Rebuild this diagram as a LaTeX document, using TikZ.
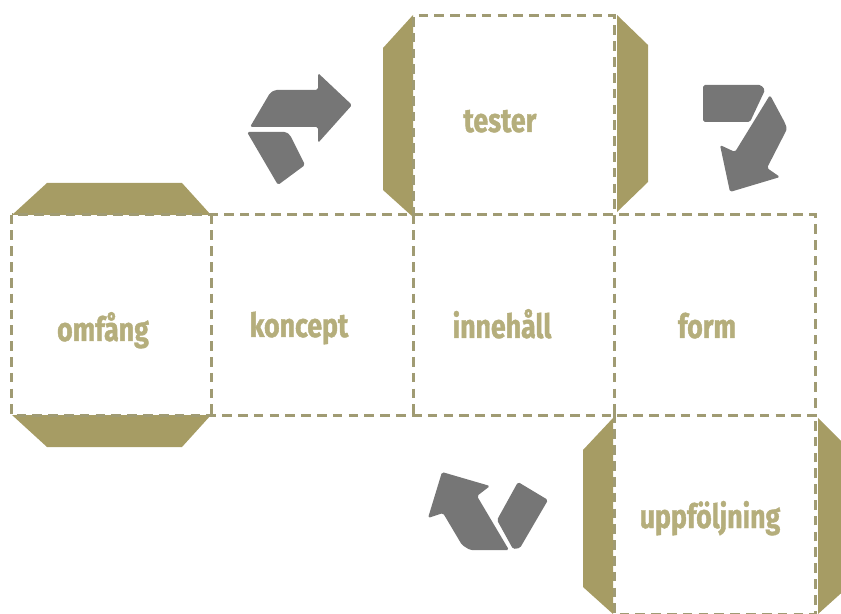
\documentclass[tikz,border=0pt]{standalone}
\usepackage{fontspec}
\setmainfont{Fira Sans}[FakeStretch=0.8,BoldFeatures={FakeBold=1.2}]
\definecolor{flapcol}{HTML}{A69C64}
\definecolor{wordcol}{HTML}{B5AE7C}
\definecolor{foldcol}{HTML}{A09B73}
\definecolor{turncol}{HTML}{767676}

\begin{document}
\begin{tikzpicture}[x=0.02cm,y=-0.02cm,
	face/.style={minimum width=4cm,minimum height=4cm,inner sep=0pt},
	word/.style={anchor=base,text=wordcol,font=\bfseries\fontsize{19}{21}\selectfont},
	flap/.style={fill=flapcol},
	fold/.style={draw=foldcol,line width=1.4pt,dash pattern=on 5.5pt off 3.5pt},
	turn/.style={fill=turncol,rounded corners=1pt}]
	\useasboundingbox (0,0) rectangle (841,614);
	\clip (0,0) rectangle (841,614);

	\node[face] (omfang) at (112,315) {};
	\node[face] (koncept) at (312,315) {};
	\node[face] (innehall) at (514,315) {};
	\node[face] (form) at (715,315) {};
	\node[face] (tester) at (514,116) {};
	\node[face] (uppfoljning) at (715,514) {};

	\fill[flap] (12,215) -- (47,183) -- (182,183) -- (211,215) -- cycle;
	\fill[flap] (12,415) -- (47,447) -- (182,447) -- (211,415) -- cycle;
	\fill[flap] (413,15) -- (383,48) -- (383,190) -- (413,217) -- cycle;
	\fill[flap] (617,15) -- (648,45) -- (648,182) -- (617,212) -- cycle;
	\fill[flap] (613,418) -- (583,450) -- (583,587) -- (613,614) -- cycle;
	\fill[flap] (818,418) -- (848,448) -- (848,587) -- (818,614) -- cycle;

	\draw[fold] (omfang.north west) rectangle (form.south east);
	\draw[fold] (koncept.north west) -- (koncept.south west);
	\draw[fold] (innehall.north west) -- (innehall.south west);
	\draw[fold] (form.north west) -- (form.south west);
	\draw[fold] (tester.south west) -- (tester.north west) -- (tester.north east) -- (tester.south east);
	\draw[fold] (uppfoljning.north west) -- (uppfoljning.south west) -- (uppfoljning.south east) -- (uppfoljning.north east);

	\node[word] (w-omfang) at (103,341) {omfång};
	\node[word] (w-koncept) at (299,337) {koncept};
	\node[word] (w-innehall) at (502,338) {innehåll};
	\node[word] (w-form) at (707,338) {form};
	\node[word] (w-tester) at (500,132) {tester};
	\node[word] (w-uppfoljning) at (710,528) {uppföljning};

	\fill[turn] (250,127) -- (270,93) -- (275,90) -- (318,90) -- (318,73) -- (352,105) -- (318,143) -- (318,127) -- cycle;
	\fill[turn] (247,132) -- (286,132) -- (290,135) -- (305,165) -- (278,185) -- cycle;
	\fill[turn] (703,85) -- (761,85) -- (765,90) -- (750,122) -- (703,122) -- cycle;
	\fill[turn] (770,95) -- (785,123) -- (787,129) -- (767,168) -- (780,177) -- (730,192) -- (720,145) -- (735,152) -- cycle;
	\fill[turn] (442,472) -- (490,486) -- (477,496) -- (509,550) -- (470,550) -- (462,545) -- (443,513) -- (428,518) -- cycle;
	\fill[turn] (518,482) -- (548,500) -- (520,548) -- (513,549) -- (497,520) -- cycle;
\end{tikzpicture}
\end{document}
